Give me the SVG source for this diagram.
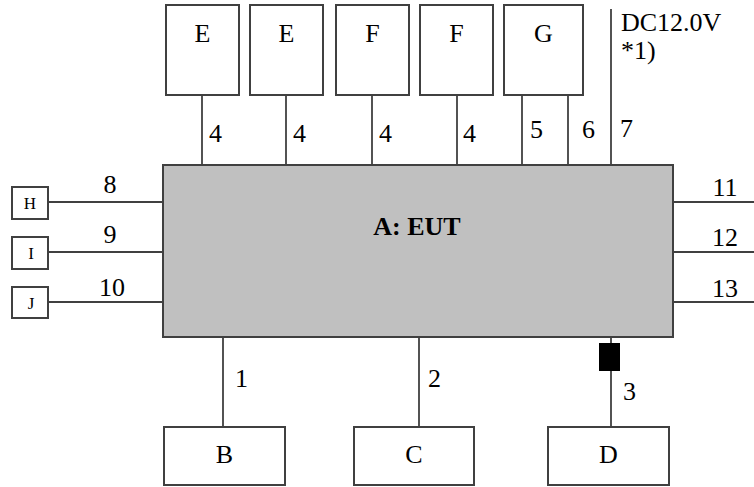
<svg xmlns="http://www.w3.org/2000/svg" width="754" height="487" viewBox="0 0 754 487" font-family="'Liberation Serif', 'DejaVu Serif', 'Times New Roman', serif">
<style>
.box{fill:#fff;stroke:#404040;stroke-width:2}
.eut{fill:#c0c0c0;stroke:#404040;stroke-width:2}
.ln{stroke:#404040;stroke-width:1.8;fill:none}
text{font-family:'Liberation Serif','DejaVu Serif','Times New Roman',serif;font-size:26px;fill:#000}
.c{text-anchor:middle}
.s{font-size:17px}
.b{font-weight:bold}
</style>
<rect width="754" height="487" fill="#fff"/>
<g id="connectors">
<line class="ln" x1="202" y1="95" x2="202" y2="165"/>
<line class="ln" x1="286" y1="95" x2="286" y2="165"/>
<line class="ln" x1="372" y1="95" x2="372" y2="165"/>
<line class="ln" x1="457" y1="95" x2="457" y2="165"/>
<line class="ln" x1="522" y1="95" x2="522" y2="165"/>
<line class="ln" x1="568" y1="95" x2="568" y2="165"/>
<line class="ln" x1="611" y1="9" x2="611" y2="165"/>
<line class="ln" x1="48" y1="202" x2="163" y2="202"/>
<line class="ln" x1="48" y1="252" x2="163" y2="252"/>
<line class="ln" x1="48" y1="302" x2="163" y2="302"/>
<line class="ln" x1="673" y1="202" x2="754" y2="202"/>
<line class="ln" x1="673" y1="252" x2="754" y2="252"/>
<line class="ln" x1="673" y1="302" x2="754" y2="302"/>
<line class="ln" x1="223" y1="337" x2="223" y2="427"/>
<line class="ln" x1="419" y1="337" x2="419" y2="427"/>
<line class="ln" x1="611" y1="337" x2="611" y2="427"/>
<rect x="599" y="343" width="21" height="28" fill="#000"/>
<text x="209" y="142">4</text>
<text x="293" y="142">4</text>
<text x="379" y="142">4</text>
<text x="463" y="142">4</text>
<text x="530" y="138">5</text>
<text x="582" y="138">6</text>
<text x="620" y="137">7</text>
<text x="110" y="193" class="c">8</text>
<text x="110" y="243" class="c">9</text>
<text x="112" y="296" class="c">10</text>
<text x="725" y="196" class="c">11</text>
<text x="725" y="246" class="c">12</text>
<text x="725" y="297" class="c">13</text>
<text x="235" y="387">1</text>
<text x="428" y="387">2</text>
<text x="623" y="400">3</text>
<text x="621" y="31">DC12.0V</text>
<text x="621" y="59">*1)</text>
</g>
<g id="A"><rect class="eut" x="163" y="165" width="510" height="172"/><text x="417" y="235" class="c b">A: EUT</text></g>
<g id="E1"><rect class="box" x="166" y="5" width="73" height="90"/><text x="202.5" y="42" class="c">E</text></g>
<g id="E2"><rect class="box" x="250" y="5" width="73" height="90"/><text x="286.5" y="42" class="c">E</text></g>
<g id="F1"><rect class="box" x="336" y="5" width="73" height="90"/><text x="372.5" y="42" class="c">F</text></g>
<g id="F2"><rect class="box" x="420" y="5" width="73" height="90"/><text x="456.5" y="42" class="c">F</text></g>
<g id="G"><rect class="box" x="504" y="5" width="79" height="90"/><text x="543.5" y="42" class="c">G</text></g>
<g id="H"><rect class="box" x="12" y="187" width="36" height="32"/><text x="30" y="209" class="c s">H</text></g>
<g id="I"><rect class="box" x="12" y="237" width="36" height="32"/><text x="31" y="259" class="c s">I</text></g>
<g id="J"><rect class="box" x="12" y="287" width="36" height="31"/><text x="31" y="309" class="c s">J</text></g>
<g id="B"><rect class="box" x="164" y="427" width="121" height="58"/><text x="224.5" y="463" class="c">B</text></g>
<g id="C"><rect class="box" x="354" y="427" width="120" height="58"/><text x="414" y="463" class="c">C</text></g>
<g id="D"><rect class="box" x="548" y="427" width="121" height="58"/><text x="608.5" y="463" class="c">D</text></g>
</svg>
